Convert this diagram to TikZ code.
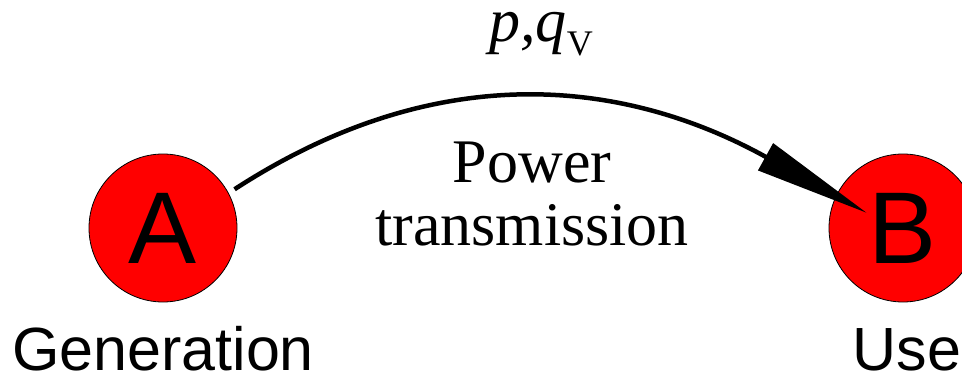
\documentclass[tikz,border=0pt]{standalone}
\usepackage{fontspec}
\setmainfont{Liberation Serif}
\setsansfont{Liberation Sans}
\usetikzlibrary{arrows.meta, positioning, calc}
\definecolor{cred}{HTML}{FF0000}
\tikzset{
  station/.style={circle, draw=black, line width=0.8pt, fill=cred, minimum size=148pt, inner sep=0pt, font=\sffamily\fontsize{102}{102}\selectfont},
  role/.style={anchor=base, font=\sffamily\fontsize{61}{61}\selectfont},
  flow/.style={-{Triangle[length=116pt, width=30pt]}, line width=4.5pt},
  caption/.style={font=\fontsize{62}{63}\selectfont, align=center, anchor=base},
}
\begin{document}
\begin{tikzpicture}[x=1pt, y=1pt]
  \useasboundingbox (0,0) rectangle (962,373);
  % the two ends of the line
  \node[station] (A) at (163,145) {A};
  \node[station] (B) at (903,145) {B};
  \node[role] (gen) at (163,3) {Generation};
  \node[role] (use) at (907,3) {Use};
  \coordinate (tip) at ($(B.center)+(-36,15)$);
  \draw[flow, shorten <=7pt] (A.28) to[out=33, in=151, looseness=1.05] (tip);
  \node[caption] (trans) at (532,128) {Power\\transmission};
  \node[caption] (pq) at (541,331) {\itshape p,q\raisebox{-14pt}{\upshape\fontsize{36}{36}\selectfont V}};
\end{tikzpicture}
\end{document}
